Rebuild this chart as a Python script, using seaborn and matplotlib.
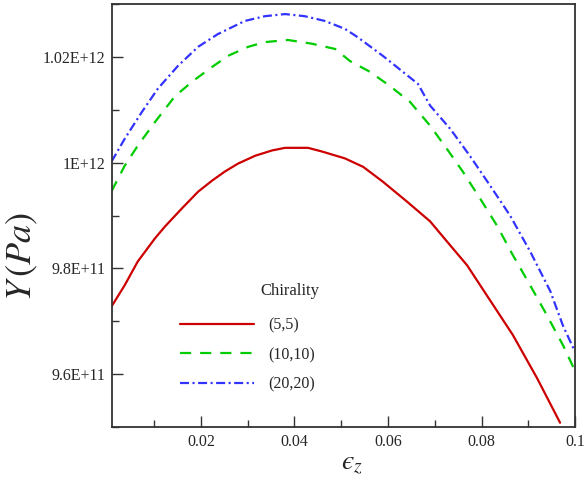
import numpy as np
import pandas as pd
import seaborn as sns
import matplotlib
matplotlib.use('Agg')
import matplotlib.pyplot as plt
from matplotlib.ticker import MultipleLocator

# strain values and Young's modulus (in units of 1e11 Pa)
x_55 = [0.0009, 0.0037, 0.0065, 0.0102, 0.0123, 0.0159, 0.0194, 0.0224, 0.0251, 0.0279,
        0.0316, 0.0352, 0.0380, 0.0429, 0.0459, 0.0508, 0.0547, 0.0589, 0.0641, 0.0690,
        0.0726, 0.0769, 0.0818, 0.0867, 0.0919, 0.0968]
y_55 = [9.728, 9.768, 9.813, 9.857, 9.879, 9.913, 9.945, 9.966, 9.983, 9.998,
        10.013, 10.023, 10.028, 10.028, 10.021, 10.008, 9.992, 9.964, 9.926, 9.889,
        9.851, 9.806, 9.740, 9.674, 9.592, 9.508]

x_1010 = [0.0009, 0.0037, 0.0065, 0.0102, 0.0144, 0.0181, 0.0224, 0.0258, 0.0301, 0.0337,
          0.0386, 0.0437, 0.0487, 0.0519, 0.0561, 0.0604, 0.0647, 0.0690, 0.0726, 0.0760,
          0.0797, 0.0833, 0.0867, 0.0904, 0.0940, 0.0974, 0.1000]
y_1010 = [9.946, 9.994, 10.032, 10.077, 10.125, 10.153, 10.181, 10.202, 10.219, 10.228,
          10.232, 10.225, 10.215, 10.192, 10.172, 10.145, 10.115, 10.070, 10.026, 9.983,
          9.932, 9.881, 9.825, 9.768, 9.711, 9.655, 9.606]

x_2020 = [0.0009, 0.0037, 0.0074, 0.0108, 0.0151, 0.0194, 0.0236, 0.0294, 0.0337, 0.0380,
          0.0422, 0.0465, 0.0508, 0.0534, 0.0589, 0.0664, 0.0690, 0.0733, 0.0775, 0.0818,
          0.0861, 0.0904, 0.0947, 0.0974, 0.1000]
y_2020 = [10.002, 10.045, 10.096, 10.140, 10.183, 10.219, 10.243, 10.268, 10.277, 10.281,
          10.277, 10.268, 10.253, 10.238, 10.202, 10.149, 10.108, 10.064, 10.013, 9.957,
          9.900, 9.832, 9.757, 9.692, 9.642]

labels = ['(5,5)', '(10,10)', '(20,20)']
xtick_vals = [0.02, 0.04, 0.06, 0.08, 0.1]
xtick_labels = ['0.02', '0.04', '0.06', '0.08', '0.1']
ytick_vals = [9.6e11, 9.8e11, 1.0e12, 1.02e12]
ytick_labels = ['9.6E+11', '9.8E+11', '1E+12', '1.02E+12']

sns.set_style('white')
plt.rcParams['font.family'] = ['Liberation Serif', 'DejaVu Serif']
plt.rcParams['mathtext.fontset'] = 'stix'
plt.rcParams['lines.scale_dashes'] = False

fig = plt.figure(figsize=(5.85, 4.79), dpi=100)
ax = fig.add_axes([0.1915, 0.1086, 0.7915, 0.883])

sns.lineplot(x=np.array(x_55), y=np.array(y_55) * 1e11, color='#cc0000', lw=1.6,
             label=labels[0], ax=ax)
sns.lineplot(x=np.array(x_1010), y=np.array(y_1010) * 1e11, color='#00cc00', lw=1.6,
             linestyle=(0, (8, 6.5)), label=labels[1], ax=ax)
sns.lineplot(x=np.array(x_2020), y=np.array(y_2020) * 1e11, color='#3333ff', lw=1.6,
             linestyle=(0, (6.5, 2.5, 1.5, 2.5)), label=labels[2], ax=ax)

ax.set_xlim(0.001, 0.1)
ax.set_ylim(9.5e11, 1.03e12)
ax.set_xticks(xtick_vals)
ax.set_xticklabels(xtick_labels)
ax.set_yticks(ytick_vals)
ax.set_yticklabels(ytick_labels)
ax.xaxis.set_minor_locator(MultipleLocator(0.01))
ax.yaxis.set_minor_locator(MultipleLocator(1e10))
ax.tick_params(which='both', bottom=True, left=True, top=False, right=False)
ax.tick_params(which='major', direction='in', length=8, width=1, color='#333333',
               labelsize=11.5, pad=5)
ax.tick_params(which='minor', direction='in', length=5, width=1, color='#333333')

for s in ax.spines.values():
    s.set_linewidth(1.3)
    s.set_color('#333333')

ax.set_xlabel('$\u03f5_z$', fontsize=20)
ax.set_ylabel(r'$Y\,(Pa)$', fontsize=26)
ax.xaxis.set_label_coords(0.518, -0.057)
ax.yaxis.set_label_coords(-0.155, 0.402)

leg = ax.legend(frameon=False, fontsize=11.5, handlelength=4.6, handletextpad=0.95,
                labelspacing=0.85, borderpad=0, borderaxespad=0,
                loc='upper left', bbox_to_anchor=(0.147, 0.259))
ax.text(0.384, 0.321, 'Chirality', transform=ax.transAxes, fontsize=12,
        ha='center', va='center')

fig.savefig('out.png', dpi=100)
